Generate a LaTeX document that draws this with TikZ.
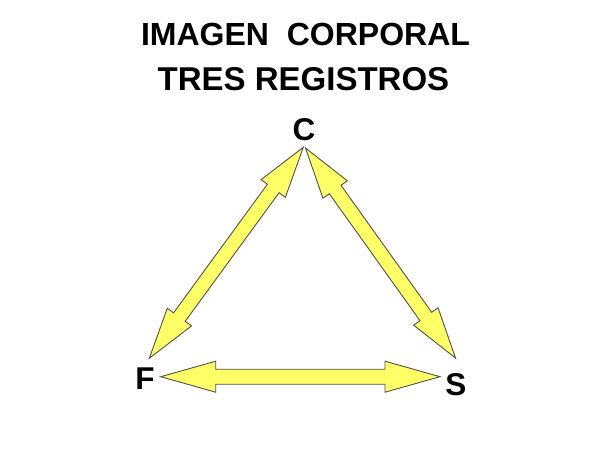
\documentclass[tikz,border=0pt]{standalone}
\usepackage{fontspec}
\setmainfont{Liberation Sans}
\usetikzlibrary{calc}
\definecolor{arrfill}{HTML}{FFFF66}
\definecolor{arrline}{HTML}{505050}
\tikzset{
  lbl/.style={font=\fontsize{32}{36}\selectfont\bfseries, inner sep=0pt, anchor=base},
  letter/.style={font=\fontsize{31.5}{34}\selectfont\bfseries, inner sep=0pt, anchor=base},
  dblarrow/.style={fill=arrfill, draw=arrline, line width=0.9pt, line join=miter}
}
% #1,#2 tips; #3 head length; #4 head half width; #5 shaft half width
\newcommand\twoheadarrow[5]{%
  \draw[dblarrow] (#1)
    -- ($(#1)!#3!(#2)!#4!90:(#2)$)
    -- ($(#1)!#3!(#2)!#5!90:(#2)$)
    -- ($(#2)!#3!(#1)!#5!-90:(#1)$)
    -- ($(#2)!#3!(#1)!#4!-90:(#1)$)
    -- (#2)
    -- ($(#2)!#3!(#1)!#4!90:(#1)$)
    -- ($(#2)!#3!(#1)!#5!90:(#1)$)
    -- ($(#1)!#3!(#2)!#5!-90:(#2)$)
    -- ($(#1)!#3!(#2)!#4!-90:(#2)$)
    -- cycle;}
\begin{document}
\begin{tikzpicture}[x=1pt,y=-1pt]
\useasboundingbox[fill=white] (0,0) rectangle (600,450);
\node[lbl] (t1) at (305.5,45) {IMAGEN\ \ CORPORAL};
\node[lbl, font=\fontsize{33}{36}\selectfont\bfseries] (t2) at (303.5,90.5) {TRES REGISTROS};
\node[letter] (C) at (304,140) {C};
\node[letter] (F) at (145,389.3) {F};
\node[letter] (S) at (456,395) {S};
\coordinate (cl) at (303.3,147.3);
\coordinate (fl) at (149.3,358.3);
\coordinate (cr) at (305.5,148);
\coordinate (sr) at (455.5,358);
\coordinate (fb) at (160.7,376.7);
\coordinate (sb) at (440,376.7);
\twoheadarrow{fl}{cl}{51pt}{15pt}{7.2pt}
\twoheadarrow{cr}{sr}{51pt}{15pt}{7.2pt}
\twoheadarrow{fb}{sb}{55pt}{15.5pt}{7.5pt}
\end{tikzpicture}
\end{document}
